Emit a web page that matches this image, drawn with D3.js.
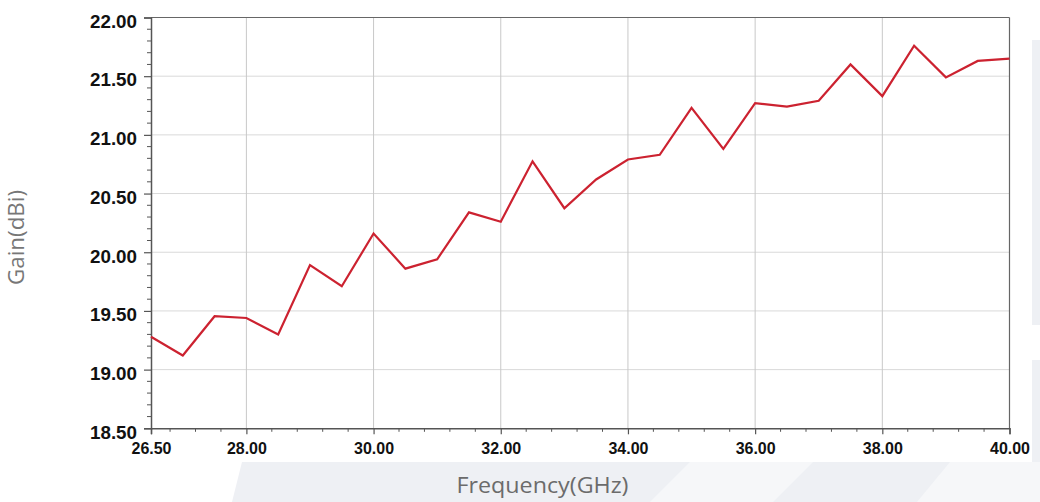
<!DOCTYPE html>
<html>
<head>
<meta charset="utf-8">
<script src="https://cdn.jsdelivr.net/npm/d3@7"></script>
<style>
  html, body { margin: 0; padding: 0; background: #ffffff; }
  svg { display: block; }
</style>
</head>
<body>
<svg id="chart" width="1040" height="502"></svg>
<script>
// ---- data ----
const frequencies = [26.5, 27.0, 27.5, 28.0, 28.5, 29.0, 29.5, 30.0, 30.5, 31.0, 31.5, 32.0, 32.5, 33.0,
                     33.5, 34.0, 34.5, 35.0, 35.5, 36.0, 36.5, 37.0, 37.5, 38.0, 38.5, 39.0, 39.5, 40.0];
const gainValues  = [19.28, 19.12, 19.455, 19.44, 19.30, 19.89, 19.71, 20.16, 19.86, 19.94, 20.34, 20.26, 20.775, 20.375,
                     20.62, 20.79, 20.83, 21.23, 20.88, 21.27, 21.24, 21.29, 21.60, 21.33, 21.76, 21.49, 21.63, 21.65];
const xTickValues = [26.5, 28, 30, 32, 34, 36, 38, 40];
const xTickLabels = ["26.50", "28.00", "30.00", "32.00", "34.00", "36.00", "38.00", "40.00"];
const yTickValues = [18.5, 19.0, 19.5, 20.0, 20.5, 21.0, 21.5, 22.0];
const yTickLabels = ["18.50", "19.00", "19.50", "20.00", "20.50", "21.00", "21.50", "22.00"];
const xAxisTitle = "Frequency(GHz)";
const yAxisTitle = "Gain(dBi)";

// ---- layout ----
const svg = d3.select("#chart");
const pLeft = 151, pRight = 1009.5, pTop = 17.5, pBottom = 428.3;

// background watermark shapes
const bg = svg.append("g");
bg.append("polygon").attr("points", "242,462 1040,462 1040,502 232,502").attr("fill", "#eef0f4");
bg.append("polygon").attr("points", "690,462 813,462 773,502 650,502").attr("fill", "#f6f7f9");
bg.append("polygon").attr("points", "950,462 1040,462 1040,502 917,502").attr("fill", "#f6f7f9");
bg.append("rect").attr("x", 1032).attr("y", 40).attr("width", 8).attr("height", 285).attr("fill", "#eef0f4");
bg.append("rect").attr("x", 1032).attr("y", 360).attr("width", 8).attr("height", 102).attr("fill", "#eef0f4");

const x = d3.scaleLinear().domain([26.5, 40]).range([pLeft, pRight]);
const y = d3.scaleLinear().domain([18.5, 22]).range([pBottom, pTop]);

// grid
const grid = svg.append("g");
grid.selectAll("line.h").data(yTickValues.filter(v => v > 18.5 && v < 22)).enter().append("line")
  .attr("x1", pLeft).attr("x2", pRight).attr("y1", d => y(d)).attr("y2", d => y(d))
  .attr("stroke", "#d9d9d9").attr("stroke-width", 1);
grid.selectAll("line.v").data(xTickValues.filter(v => v > 26.5 && v < 40)).enter().append("line")
  .attr("y1", pTop).attr("y2", pBottom).attr("x1", d => x(d)).attr("x2", d => x(d))
  .attr("stroke", "#c8c8c8").attr("stroke-width", 1);

// frame (top & right)
svg.append("line").attr("x1", pLeft).attr("x2", pRight).attr("y1", pTop).attr("y2", pTop)
  .attr("stroke", "#666").attr("stroke-width", 1.2);
svg.append("line").attr("x1", pRight).attr("x2", pRight).attr("y1", pTop).attr("y2", pBottom)
  .attr("stroke", "#666").attr("stroke-width", 1.2);

// minor ticks
const xMinor = d3.range(-3, 31).map(k => +(28 + 0.4 * k).toFixed(2))
  .filter(v => v > 26.5 && v < 40 && Math.abs(v - Math.round(v / 2) * 2) > 1e-6);
const yMinor = d3.range(1, 35).map(k => +(18.5 + 0.1 * k).toFixed(2))
  .filter(v => Math.abs(v * 2 - Math.round(v * 2)) > 1e-6);

const xAxis = d3.axisBottom(x).tickValues(xTickValues).tickSize(6)
  .tickFormat((d, i) => xTickLabels[i]).tickPadding(10);
const yAxis = d3.axisLeft(y).tickValues(yTickValues).tickSize(7)
  .tickFormat((d, i) => yTickLabels[i]).tickPadding(7);

const gx = svg.append("g").attr("transform", `translate(0,${pBottom})`).call(xAxis);
gx.append("g").selectAll("line").data(xMinor).enter().append("line")
  .attr("x1", d => x(d)).attr("x2", d => x(d)).attr("y1", 0).attr("y2", 3.5)
  .attr("stroke", "#555").attr("stroke-width", 1);
const gy = svg.append("g").attr("transform", `translate(${pLeft},0)`).call(yAxis);
gy.append("g").selectAll("line").data(yMinor).enter().append("line")
  .attr("x1", -4).attr("x2", 0).attr("y1", d => y(d)).attr("y2", d => y(d))
  .attr("stroke", "#555").attr("stroke-width", 1);

[gx, gy].forEach(g => {
  g.select(".domain").attr("stroke", "#555").attr("stroke-width", 1.5);
  g.selectAll(".tick line").attr("stroke", "#555").attr("stroke-width", 1.2);
  g.selectAll(".tick text").attr("fill", "#111")
    .attr("font-family", "'Liberation Sans', Arial, sans-serif").attr("font-weight", "bold");
});
gx.selectAll(".tick text").attr("font-size", 16).attr("dy", null).attr("y", 25.5)
  .attr("dominant-baseline", "alphabetic")
  .attr("textLength", 40).attr("lengthAdjust", "spacingAndGlyphs");
gy.selectAll(".tick text").attr("font-size", 17.5).attr("dy", null).attr("y", 9.8)
  .attr("x", -14).attr("dominant-baseline", "alphabetic")
  .attr("textLength", 47).attr("lengthAdjust", "spacingAndGlyphs");

// line
const line = d3.line().x((d, i) => x(frequencies[i])).y(d => y(d));
svg.append("path").datum(gainValues).attr("d", line)
  .attr("fill", "none").attr("stroke", "#cc2230").attr("stroke-width", 2.2)
  .attr("stroke-linejoin", "miter");

// axis titles
svg.append("text").text(xAxisTitle)
  .attr("x", 542.5).attr("y", 493).attr("text-anchor", "middle")
  .attr("font-family", "'Open Sans', sans-serif").attr("font-size", 21).attr("fill", "#6b6b6b")
  .attr("textLength", 172).attr("lengthAdjust", "spacingAndGlyphs");
svg.append("text").text(yAxisTitle)
  .attr("transform", "translate(24,237.5) rotate(-90)").attr("text-anchor", "middle")
  .attr("font-family", "'Open Sans', sans-serif").attr("font-size", 21).attr("fill", "#777")
  .attr("textLength", 95).attr("lengthAdjust", "spacingAndGlyphs");
</script>
</body>
</html>
